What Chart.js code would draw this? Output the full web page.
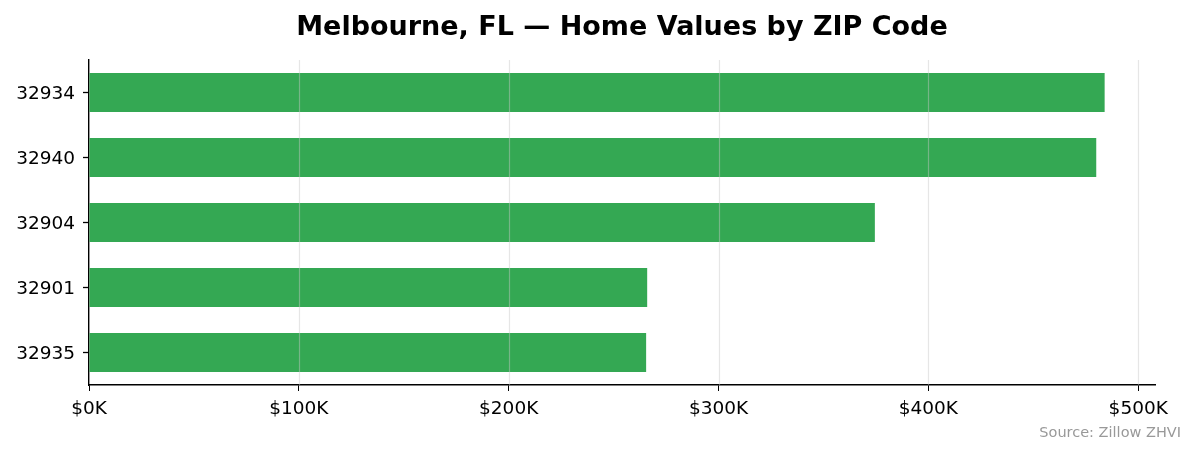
<!DOCTYPE html>
<html>
<head>
<meta charset="utf-8">
<script src="https://cdn.jsdelivr.net/npm/chart.js@4"></script>
<style>
  html, body { margin: 0; padding: 0; background: #fff; }
  #wrap { width: 1195px; height: 455px; position: relative; }
</style>
</head>
<body>
<div id="wrap"><canvas id="mycanvas" width="1195" height="455"></canvas></div>
<script>
var zips = ['32934', '32940', '32904', '32901', '32935'];
var homeValues = [484000, 480000, 374500, 266000, 265500];
var xTicks = [0, 100000, 200000, 300000, 400000, 500000];
var titleText = 'Melbourne, FL \u2014 Home Values by ZIP Code';
var sourceText = 'Source: Zillow ZHVI';

// title centred over the plot, grid drawn on top of bars, source note
var extras = {
	id: 'extras',
	afterDatasetsDraw: function(chart) {
		var c = chart.ctx, a = chart.chartArea, x = chart.scales.x;
		c.save();
		c.strokeStyle = 'rgba(200,200,200,0.45)';
		c.lineWidth = 1.2;
		xTicks.forEach(function(v) {
			var px = Math.round(x.getPixelForValue(v)) + 0.5;
			if (v === 0) return;
			c.beginPath();
			c.moveTo(px, a.top);
			c.lineTo(px, a.bottom);
			c.stroke();
		});
		c.restore();
	},
	afterDraw: function(chart) {
		var c = chart.ctx, a = chart.chartArea;
		c.save();
		c.fillStyle = '#000';
		c.font = 'bold 27px "DejaVu Sans"';
		c.textAlign = 'center';
		c.textBaseline = 'alphabetic';
		c.fillText(titleText, (a.left + a.right) / 2, 35);
		c.font = '14.5px "DejaVu Sans"';
		c.fillStyle = '#999999';
		c.textAlign = 'right';
		c.fillText(sourceText, 1181, 437);
		c.restore();
	}
};

var ctx = document.getElementById('mycanvas');

var barGraph = new Chart(ctx, {
	type: 'bar',
	data: {
		labels: zips,
		datasets: [{
			label: 'Home Value',
			data: homeValues,
			backgroundColor: '#34a853',
			borderWidth: 0,
			categoryPercentage: 1,
			barPercentage: 0.6
		}]
	},
	options: {
		indexAxis: 'y',
		responsive: false,
		animation: false,
		devicePixelRatio: 1,
		layout: { padding: { left: 0, right: 40, top: 60, bottom: 0 } },
		plugins: {
			legend: { display: false },
			tooltip: { enabled: false },
			title: { display: false }
		},
		scales: {
			x: {
				min: 0,
				max: 508000,
				afterFit: function(s) { s.height = 70; },
				afterBuildTicks: function(s) { s.ticks = xTicks.map(function(v) { return { value: v }; }); },
				ticks: {
					color: '#000',
					font: { family: 'DejaVu Sans', size: 18.5 },
					padding: 7,
					callback: function(v) { return '$' + (v / 1000) + 'K'; }
				},
				grid: {
					drawOnChartArea: false,
					tickColor: '#000',
					tickLength: 6
				},
				border: { color: '#000', width: 1.4 }
			},
			y: {
				afterFit: function(s) { s.width = 89; },
				ticks: {
					color: '#000',
					font: { family: 'DejaVu Sans', size: 18.5 },
					padding: 8,
					labelOffset: 2
				},
				grid: {
					offset: false,
					drawOnChartArea: false,
					tickColor: '#000',
					tickLength: 6,
					tickWidth: 1.3
				},
				border: { color: '#000', width: 1.4 }
			}
		}
	},
	plugins: [extras]
});
</script>
</body>
</html>
